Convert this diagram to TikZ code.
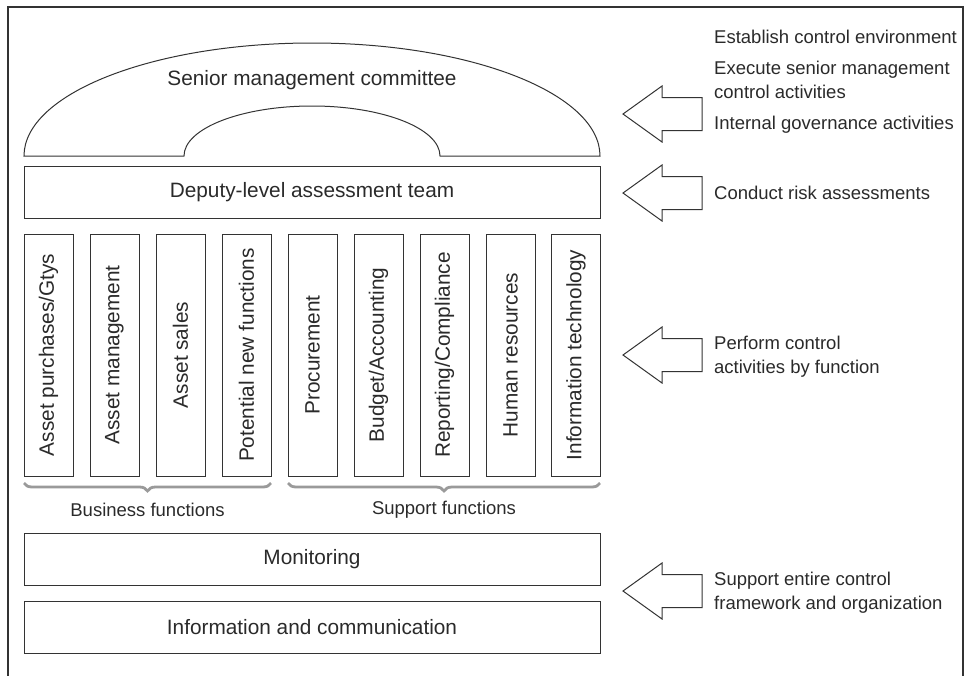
\documentclass[tikz,border=0pt]{standalone}
\usepackage{fontspec}
\setmainfont{Liberation Sans}
\usetikzlibrary{decorations.pathreplacing}
\definecolor{linec}{HTML}{333333}
\definecolor{textc}{HTML}{2A2A2A}
\definecolor{bracec}{HTML}{9A9A9A}
\newcommand\mainsz{\fontsize{20.8}{24}\selectfont}
\newcommand\sidesz{\fontsize{18.5}{24}\selectfont}
\begin{document}
\begin{tikzpicture}[x=1pt,y=-1pt,
  line/.style={draw=linec,line width=1pt},
  wide/.style={line, rectangle, inner sep=0pt, minimum width=576pt, minimum height=52pt, font=\mainsz, text=textc},
  colbox/.style={line, rectangle, rotate=90, inner sep=0pt, minimum width=242pt, minimum height=49pt, font=\mainsz, text=textc},
  label/.style={inner sep=0pt, text=textc},
  sidetext/.style={anchor=base west, inner sep=0pt, font=\sidesz, text=textc},
  bracepath/.style={draw=bracec, line width=2.8pt, decorate, decoration={brace, mirror, amplitude=8pt}},
  blockarrow/.pic={\draw[line, fill=white, line join=miter] (0,0) -- (39,-28) -- (39,-16.5) -- (79,-16.5) -- (79,16.5) -- (39,16.5) -- (39,28) -- cycle;}
]
\useasboundingbox (0,0) rectangle (972,675);
% frame
\draw[draw=linec, line width=1.3pt] (8,676) -- (8,7) -- (963,7) -- (963,676);

% arch
\draw[line] (24,156) arc[start angle=180, end angle=0, x radius=288pt, y radius=113pt]
  -- (440,156) arc[start angle=0, end angle=180, x radius=128pt, y radius=50pt] -- cycle;
\node[label, font=\mainsz] (senior) at (312,80) {Senior management committee};

% deputy
\node[wide] (deputy) at (312,192.5) {Deputy-level assessment team};

% columns
\node[colbox] (c1) at (48.5,355) {Asset purchases/Gtys};
\node[colbox] (c2) at (114.5,355) {Asset management};
\node[colbox] (c3) at (180.5,355) {Asset sales};
\node[colbox] (c4) at (246.5,355) {Potential new functions};
\node[colbox] (c5) at (312.5,355) {Procurement};
\node[colbox] (c6) at (378.5,355) {Budget/Accounting};
\node[colbox] (c7) at (444.5,355) {Reporting/Compliance};
\node[colbox] (c8) at (510.5,355) {Human resources};
\node[colbox] (c9) at (576,355) {Information technology};

% braces
\coordinate (b1l) at (24,483);
\coordinate (b1r) at (271,483);
\coordinate (b2l) at (288,483);
\coordinate (b2r) at (600,483);
\draw[bracepath] (b1l) -- (b1r);
\draw[bracepath] (b2l) -- (b2r);
\node[label, font=\sidesz] (bus) at (147.5,510) {Business functions};
\node[label, font=\sidesz] (sup) at (444,510) {Support functions};

% bottom boxes
\node[wide] (mon) at (312,559.5) {Monitoring};
\node[wide] (info) at (312,627.5) {Information and communication};

% arrows
\pic (a1) at (623,114) {blockarrow};
\pic (a2) at (623,193) {blockarrow};
\pic (a3) at (623,355) {blockarrow};
\pic (a4) at (623,591) {blockarrow};

% side texts
\node[sidetext] (t1) at (714,43.5) {Establish control environment};
\node[sidetext] (t2) at (714,74.5) {\begin{tabular}[t]{@{}l@{}}Execute senior management\\control activities\end{tabular}};
\node[sidetext] (t3) at (714,129.5) {Internal governance activities};
\node[sidetext] (t4) at (714,199.5) {Conduct risk assessments};
\node[sidetext] (t5) at (714,349.5) {\begin{tabular}[t]{@{}l@{}}Perform control\\activities by function\end{tabular}};
\node[sidetext] (t6) at (714,585.5) {\begin{tabular}[t]{@{}l@{}}Support entire control\\framework and organization\end{tabular}};
\end{tikzpicture}
\end{document}
